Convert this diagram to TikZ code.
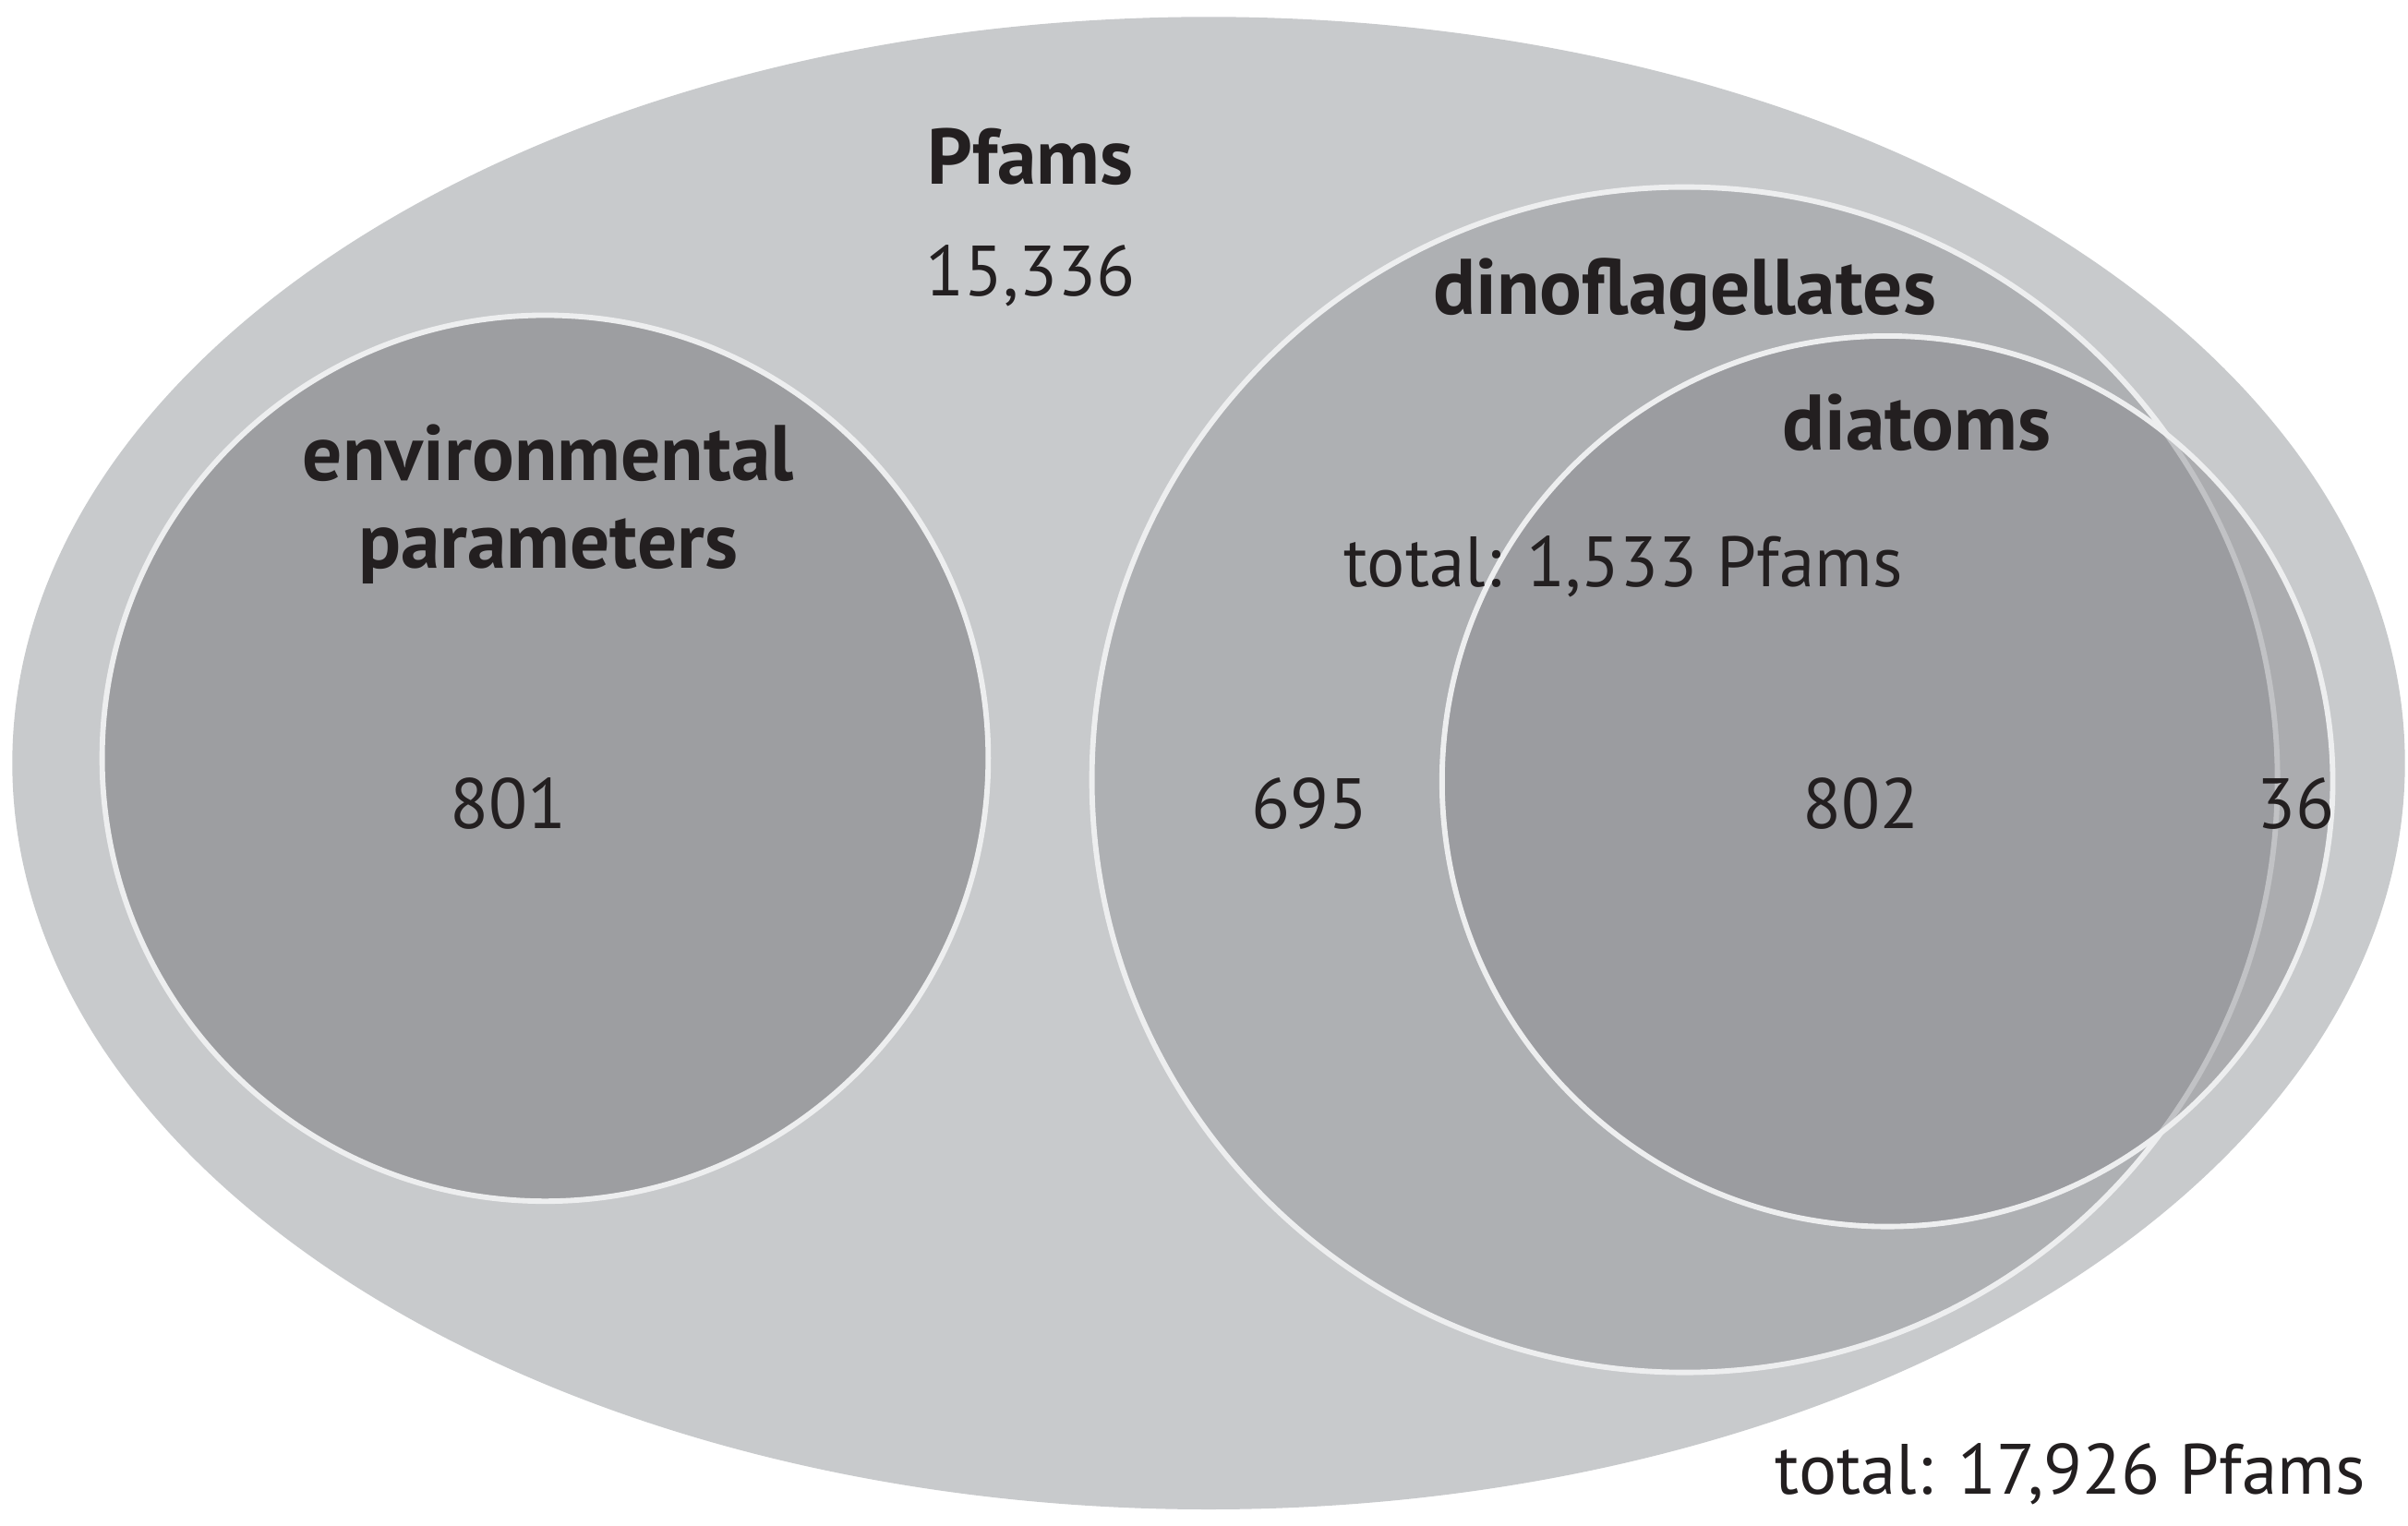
\documentclass[tikz,border=0pt]{standalone}
\usepackage{fontspec}
\setmainfont{PT Sans}
\begin{document}
\begin{tikzpicture}[x=1cm,y=1cm,
  lbl/.style={anchor=base,inner sep=0pt,font=\fontsize{13.2}{16}\selectfont,text=txt},
  blbl/.style={lbl,font=\fontsize{14.6}{16.2}\selectfont\bfseries},
  rim/.style={draw=rimc,line width=1pt}]
\definecolor{outerc}{RGB}{200,202,204}
\definecolor{envc}{RGB}{157,158,161}
\definecolor{dinoc}{RGB}{174,176,179}
\definecolor{diatc}{RGB}{125,126,130}
\definecolor{rimc}{RGB}{237,238,239}
\definecolor{txt}{RGB}{35,31,32}
\useasboundingbox (0,0) rectangle (15.68,9.938);
% shapes (1 px of the 1568-wide view = 0.01 cm; y up)
\fill[outerc] (7.87,4.968) ellipse [x radius=7.79, y radius=4.86];
\path[fill=envc,rim] (3.55,5.00) circle [radius=2.885];
\path[fill=dinoc,rim] (10.97,4.86) circle [radius=3.86];
\path[fill=diatc,fill opacity=0.385,rim] (12.29,4.85) circle [radius=2.9];
% labels
\node[blbl] (pf) at (6.71,8.74) {Pfams};
\node[lbl] (pfn) at (6.71,8.01) {15,336};
\node[blbl,align=center] (env) at (3.57,6.24) {environmental\\parameters};
\node[lbl] (envn) at (3.31,4.54) {801};
\node[blbl] (dino) at (10.97,7.89) {dinoflagellates};
\node[blbl] (diat) at (12.48,7.01) {diatoms};
\node[lbl] (tot1) at (10.57,6.12) {total: 1,533 Pfams};
\node[lbl] (n695) at (8.53,4.54) {695};
\node[lbl] (n802) at (12.12,4.54) {802};
\node[lbl] (n36) at (14.95,4.54) {36};
\node[lbl] (tot2) at (13.48,0.21) {total: 17,926 Pfams};
\end{tikzpicture}
\end{document}
